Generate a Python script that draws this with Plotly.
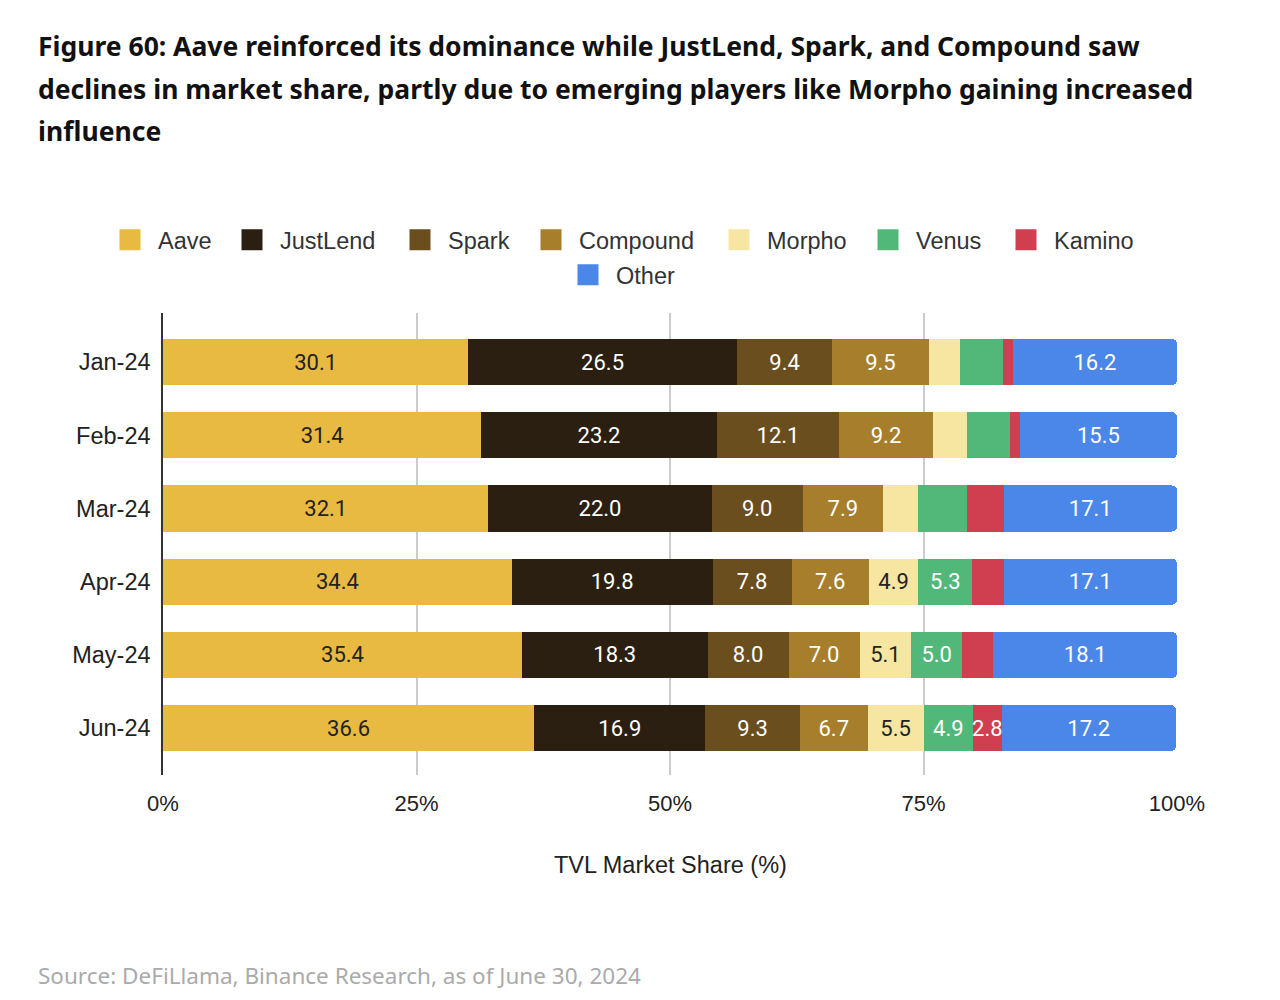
import plotly.graph_objects as go

MONTHS = ["Jan-24", "Feb-24", "Mar-24", "Apr-24", "May-24", "Jun-24"]
SERIES = ["Aave", "JustLend", "Spark", "Compound", "Morpho", "Venus", "Kamino", "Other"]

AAVE = [30.1, 31.4, 32.1, 34.4, 35.4, 36.6]
JUSTLEND = [26.5, 23.2, 22.0, 19.8, 18.3, 16.9]
SPARK = [9.4, 12.1, 9.0, 7.8, 8.0, 9.3]
COMPOUND = [9.5, 9.2, 7.9, 7.6, 7.0, 6.7]
MORPHO = [3.1, 3.4, 3.5, 4.9, 5.1, 5.5]
VENUS = [4.2, 4.2, 4.8, 5.3, 5.0, 4.9]
KAMINO = [1.0, 1.0, 3.6, 3.1, 3.1, 2.8]
OTHER = [16.2, 15.5, 17.1, 17.1, 18.1, 17.2]

# which segment values are printed on the bars
SHOW_AAVE = [1, 1, 1, 1, 1, 1]
SHOW_JUSTLEND = [1, 1, 1, 1, 1, 1]
SHOW_SPARK = [1, 1, 1, 1, 1, 1]
SHOW_COMPOUND = [1, 1, 1, 1, 1, 1]
SHOW_MORPHO = [0, 0, 0, 1, 1, 1]
SHOW_VENUS = [0, 0, 0, 1, 1, 1]
SHOW_KAMINO = [0, 0, 0, 0, 0, 1]
SHOW_OTHER = [1, 1, 1, 1, 1, 1]

TICK_VALS = [0, 25, 50, 75, 100]
TICK_TEXT = ["0%", "25%", "50%", "75%", "100%"]

TITLE_LINES = [
    "Figure 60: Aave reinforced its dominance while JustLend, Spark, and Compound saw",
    "declines in market share, partly due to emerging players like Morpho gaining increased",
    "influence",
]
X_TITLE = "TVL Market Share (%)"
SOURCE = "Source: DeFiLlama, Binance Research, as of June 30, 2024"

VALUES = [AAVE, JUSTLEND, SPARK, COMPOUND, MORPHO, VENUS, KAMINO, OTHER]
SHOWS = [SHOW_AAVE, SHOW_JUSTLEND, SHOW_SPARK, SHOW_COMPOUND, SHOW_MORPHO, SHOW_VENUS, SHOW_KAMINO, SHOW_OTHER]
COLORS = ["#E8BA41", "#2A1F10", "#6A4E1E", "#A77F2C", "#F7E5A2", "#52B87A", "#CF3F4F", "#4A87E8"]
TEXT_COLORS = ["#222222", "#FFFFFF", "#FFFFFF", "#FFFFFF", "#222222", "#FFFFFF", "#FFFFFF", "#FFFFFF"]

# legend swatch placement (left edge px of swatch, centre y px)
LEGEND_X = [119, 241, 409, 540, 728, 877, 1015, 577]
LEGEND_Y = [240, 240, 240, 240, 240, 240, 240, 275]

L, R, T, B = 163, 103, 313, 225
PW, PH = 1280 - L - R, 1000 - T - B
ITEMW = 46

fig = go.Figure()
for name, vals, show, col, tcol in zip(SERIES, VALUES, SHOWS, COLORS, TEXT_COLORS):
    fig.add_trace(go.Bar(
        y=MONTHS, x=vals, orientation="h", name=name,
        marker=dict(color=col, line=dict(width=0)),
        text=[f"{v:.1f}" if s else "" for v, s in zip(vals, show)],
        textposition="inside", insidetextanchor="middle", textangle=0,
        constraintext="none", cliponaxis=False,
        textfont=dict(family="Roboto", size=22, color=tcol),
        showlegend=False, hoverinfo="x+name",
    ))

legend_layout = {}
for i, (name, col) in enumerate(zip(SERIES, COLORS)):
    key = "legend" if i == 0 else f"legend{i + 1}"
    fig.add_trace(go.Scatter(
        x=[None], y=[None], mode="markers", name=name,
        marker=dict(symbol="square", size=16, color=col, line=dict(color=col, width=5)),
        legend=key,
    ))
    legend_layout[key] = dict(
        orientation="h", x=(LEGEND_X[i] - 8.5 - (ITEMW - 30) / 2 - 0.5 - L) / PW, xanchor="left",
        y=(T + PH - LEGEND_Y[i]) / PH, yanchor="middle", itemwidth=ITEMW,
        font=dict(family="Liberation Sans, Arial", size=23.5, color="#333333"),
        bgcolor="rgba(0,0,0,0)", borderwidth=0,
    )

fig.update_layout(
    width=1280, height=1000,
    margin=dict(l=L, r=R, t=T, b=B),
    barmode="stack", bargap=0.37, barcornerradius=5,
    plot_bgcolor="white", paper_bgcolor="white",
    font=dict(family="Liberation Sans, Arial", size=20, color="#222222"),
    xaxis=dict(range=[0, 100], tickvals=TICK_VALS, ticktext=TICK_TEXT,
               showgrid=True, gridcolor="#CCCCCC", gridwidth=1.5,
               zeroline=False, showline=False, ticks="", ticklabelstandoff=13,
               tickfont=dict(family="Liberation Sans, Arial", size=22, color="#222222"),
               fixedrange=True),
    yaxis=dict(categoryorder="array", categoryarray=MONTHS, range=[5.64, -0.67],
               showgrid=False, showline=True, linecolor="#333333", linewidth=1.5,
               ticks="", ticklabelstandoff=6,
               tickfont=dict(family="Liberation Sans, Arial", size=23.5, color="#222222")),
    **legend_layout,
)

ann = []
for i, line in enumerate(TITLE_LINES):
    ann.append(dict(text=f"<b>{line}</b>", xref="paper", yref="paper",
                    x=(36 - L) / PW, y=(T + PH - (46 + 42.5 * i)) / PH,
                    xanchor="left", yanchor="middle", showarrow=False, align="left",
                    font=dict(family="Noto Sans", size=26.5, color="#111111")))
ann.append(dict(text=X_TITLE, xref="paper", yref="paper", x=0.5, y=(T + PH - 865) / PH,
                xanchor="center", yanchor="middle", showarrow=False,
                font=dict(family="Liberation Sans, Arial", size=23.5, color="#222222")))
ann.append(dict(text=SOURCE, xref="paper", yref="paper", x=(36 - L) / PW,
                y=(T + PH - 975) / PH, xanchor="left", yanchor="middle", showarrow=False,
                font=dict(family="Noto Sans", size=22.5, color="#AAAAAA")))
fig.update_layout(annotations=ann)

fig.write_html("out.html")
